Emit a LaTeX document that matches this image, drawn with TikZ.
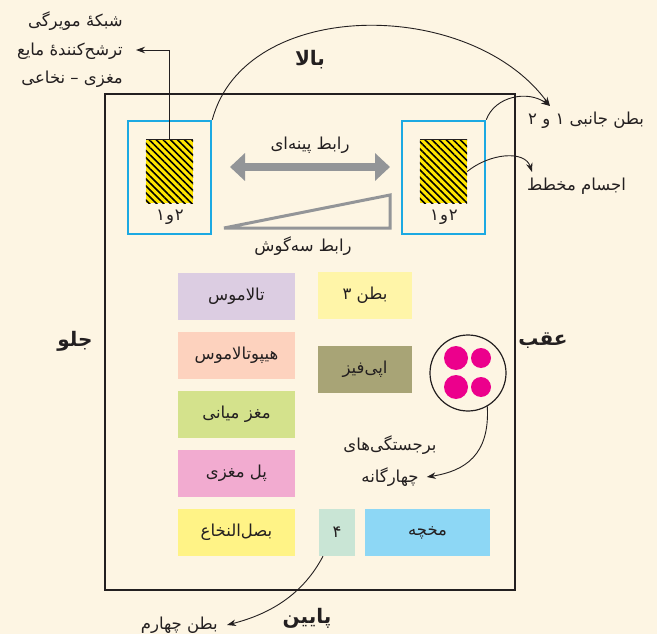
\documentclass[tikz,border=0pt]{standalone}
\usepackage{fontspec}
\setmainfont{DejaVu Sans}
\newfontfamily\fa[Script=Arabic]{DejaVu Sans}
\TeXXeTstate=1
\usetikzlibrary{arrows.meta,patterns.meta}
\definecolor{bg}{HTML}{FDF5E3}
\definecolor{ink}{HTML}{231F20}
\definecolor{cyanbox}{HTML}{1CA9E2}
\definecolor{grayarr}{HTML}{939598}
\definecolor{hatchy}{HTML}{FFE600}
\definecolor{cThal}{HTML}{DCCDE2}
\definecolor{cVthree}{HTML}{FFF5A8}
\definecolor{cHypo}{HTML}{FDD2BE}
\definecolor{cEpi}{HTML}{A8A476}
\definecolor{cMid}{HTML}{D4E28C}
\definecolor{cPons}{HTML}{F2ABD0}
\definecolor{cMed}{HTML}{FFF386}
\definecolor{cVfour}{HTML}{C9E5D5}
\definecolor{cCer}{HTML}{8DD7F5}
\definecolor{dotpink}{HTML}{EC008C}
\newcommand{\rtl}[1]{\beginR #1\endR}
\newcommand{\oneandtwo}{\hbox{\fa ۱}\kern1pt\hbox{\fa و}\kern1pt\hbox{\fa ۲}}
\tikzset{
  lbl/.style={font=\fa\fontsize{16.5}{19}\selectfont, text=ink, inner sep=0pt},
  boldlbl/.style={font=\fa\bfseries\fontsize{20}{24}\selectfont, text=ink, inner sep=0pt},
  cbox/.style={lbl, minimum height=47pt, inner sep=0pt},
  bluebox/.style={draw=cyanbox, line width=2.6pt, minimum width=83pt, minimum height=113pt, inner sep=0pt},
  hatchbox/.style={fill=hatchy, minimum width=47pt, minimum height=63pt, inner sep=0pt},
  arr/.style={draw=ink, line width=0.9pt, -{Stealth[length=9pt,width=6.5pt]}},
  frameline/.style={draw=ink, line width=1.1pt},
}
\begin{document}
\begin{tikzpicture}[x=1pt, y=-1pt]
\useasboundingbox (0,0) rectangle (657,634);
\fill[bg] (0,0) rectangle (657,634);
% main frame
\draw[frameline] (105,94) rectangle (515,590);
% blue boxes
\node[bluebox] (bl) at (169.5,177.5) {};
\node[bluebox] (br) at (443.5,177.5) {};
% hatched squares
\node[hatchbox] (hl) at (169.5,171.5) {};
\node[hatchbox] (hr) at (443.5,171.5) {};
\fill[pattern={Lines[angle=-45,distance=5pt,line width=1.6pt]}, pattern color=black] (hl.north west) rectangle (hl.south east);
\fill[pattern={Lines[angle=-45,distance=5pt,line width=1.6pt]}, pattern color=black] (hr.north west) rectangle (hr.south east);
\draw[ink, line width=1pt] (hl.north west) -- (hl.north east);
\draw[ink, line width=1pt] (hr.north west) -- (hr.north east);
\node[lbl] (nl) at (170,217) {\oneandtwo};
\node[lbl] (nr) at (444,217) {\oneandtwo};
% gray double arrow and wedge
\coordinate (ga) at (230,167);
\coordinate (gb) at (390,167);
\draw[grayarr, line width=8pt, {Triangle[length=15pt,width=27pt]}-{Triangle[length=15pt,width=27pt]}] (ga) -- (gb);
\node[lbl] (cal) at (310,145) {\rtl{رابط پینه‌ای}};
\draw[grayarr, line width=3pt, line join=miter] (224,228) -- (390,195) -- (390,228) -- cycle;
\node[lbl] (tri) at (303,246) {\rtl{رابط سه‌گوش}};
% direction labels
\node[boldlbl] (bala) at (310,60) {\rtl{بالا}};
\node[boldlbl] (paiin) at (307,618) {\rtl{پایین}};
\node[boldlbl] (jelo) at (75,341) {\rtl{جلو}};
\node[boldlbl] (aqab) at (543,341) {\rtl{عقب}};
% left callout
\node[lbl, anchor=east, align=right, font=\fa\fontsize{16.5}{28.5}\selectfont] (net) at (123,50)
  {\rtl{شبکهٔ مویرگی}\\ \rtl{ترشح‌کنندهٔ مایع}\\ \rtl{مغزی – نخاعی}};
\draw[arr] (hl.north) |- ([xshift=13pt]net.east);
% right callouts
\node[lbl, anchor=west] (lat) at (528,120) {\rtl{بطن جانبی ۱ و ۲}};
\node[lbl, anchor=west] (stri) at (527,186) {\rtl{اجسام مخطط}};
\coordinate (latarr) at (550,106);
\coordinate (striarr) at (532,172);
\draw[arr] (bl.north east) .. controls (245,-3) and (470,-3) .. (latarr);
\draw[arr] (br.north east) .. controls (495,96) and (528,90) .. (latarr);
\draw[arr] (hr.east) .. controls (490,153) and (525,150) .. (striarr);
% coloured boxes
\node[cbox, fill=cThal, minimum width=117pt] (thal) at (236.5,296.5) {\rtl{تالاموس}};
\node[cbox, fill=cHypo, minimum width=117pt] (hypo) at (236.5,355) {\rtl{هیپوتالاموس}};
\node[cbox, fill=cMid, minimum width=117pt] (midb) at (236.5,414.5) {\rtl{مغز میانی}};
\node[cbox, fill=cPons, minimum width=117pt] (pons) at (236.5,473.5) {\rtl{پل مغزی}};
\node[cbox, fill=cMed, minimum width=117pt] (medu) at (236.5,532.5) {\rtl{بصل‌النخاع}};
\node[cbox, fill=cVthree, minimum width=94pt] (vthree) at (365,295.5) {\rtl{بطن ۳}};
\node[cbox, fill=cEpi, minimum width=94pt] (epi) at (365,369.5) {\rtl{اپی‌فیز}};
\node[cbox, fill=cVfour, minimum width=36pt] (vfour) at (337,532.5) {\fa ۴};
\node[cbox, fill=cCer, minimum width=125pt] (cer) at (427.5,532.5) {\rtl{مخچه}};
% quadrigemina
\node[circle, draw=ink, line width=1.2pt, minimum size=76pt, inner sep=0pt] (quad) at (468,373) {};
\fill[dotpink] (456,358) circle[radius=12pt];
\fill[dotpink] (481,358) circle[radius=10pt];
\fill[dotpink] (456,387) circle[radius=12pt];
\fill[dotpink] (481,387) circle[radius=10pt];
\node[lbl] (q1) at (390,445) {\rtl{برجستگی‌های}};
\node[lbl] (q2) at (390,477) {\rtl{چهارگانه}};
\draw[arr] (quad.-60) .. controls (490,455) and (465,471) .. ([xshift=8pt]q2.east);
% fourth ventricle
\node[lbl, anchor=east] (vfl) at (218,625) {\rtl{بطن چهارم}};
\draw[arr] ([xshift=-14pt]vfour.south) .. controls (300,600) and (262,616) .. ([xshift=9pt]vfl.east);
\end{tikzpicture}
\end{document}
